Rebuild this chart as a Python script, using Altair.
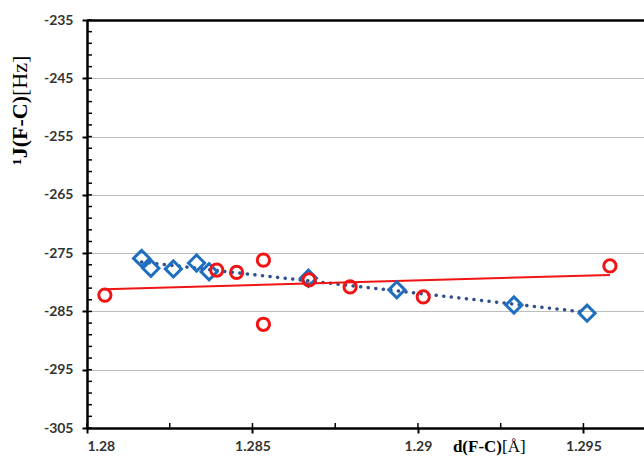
import altair as alt
import pandas as pd

# Coupling constants 1J(F-C) versus F-C bond length, two series
blue_d = [1.28165, 1.28193, 1.28261, 1.28331, 1.28369, 1.28669, 1.28936, 1.29290, 1.29511]
blue_j = [-275.9, -277.6, -277.7, -276.7, -278.2, -279.3, -281.3, -283.9, -285.3]

red_d = [1.28054, 1.28392, 1.28452, 1.28533, 1.28533, 1.28671, 1.28795, 1.29016, 1.29580]
red_j = [-282.2, -277.9, -278.3, -276.2, -287.2, -279.6, -280.8, -282.5, -277.2]

# Axis ticks
x_major = [1.28, 1.285, 1.29, 1.295]
x_minor = [1.2825, 1.2875, 1.2925]
y_major = [-305, -295, -285, -275, -265, -255, -245, -235]
y_minor = [-303, -301, -299, -297, -293, -291, -289, -287, -283, -281, -279, -277,
           -273, -271, -269, -267, -263, -261, -259, -257, -253, -251, -249, -247,
           -243, -241, -239, -237]

X_DOMAIN = [1.28, 1.29683]
Y_DOMAIN = [-305, -235]
W, H = 557, 408

BLUE = "#1F6FC0"
BLUE_LINE = "#2F4F8F"
RED = "#F01414"

blue = pd.DataFrame({"d": blue_d, "j": blue_j})
red = pd.DataFrame({"d": red_d, "j": red_j})

label_font = "Lato"
xs = alt.Scale(domain=X_DOMAIN, nice=False, zero=False)
ys = alt.Scale(domain=Y_DOMAIN, nice=False, zero=False)

x_enc = alt.X(
    "d:Q", scale=xs, title=None,
    axis=alt.Axis(
        values=x_major, format="~g", grid=False, domainColor="#000", domainWidth=2.5,
        tickColor="#000", tickWidth=2, tickSize=5, labelPadding=6,
        labelFont=label_font, labelFontWeight="bold", labelFontSize=14, labelColor="#333",
    ),
)
y_enc = alt.Y(
    "j:Q", scale=ys, title=None,
    axis=alt.Axis(
        values=y_major, labelExpr="toString(datum.value)", domainColor="#000", domainWidth=2.5,
        tickColor="#000", tickWidth=2, tickSize=5, labelPadding=9,
        labelFont=label_font, labelFontWeight="bold", labelFontSize=14, labelColor="#333",
        gridColor={"condition": {"test": "datum.value == -235", "value": "#000"}, "value": "#BDBDBD"},
        gridWidth={"condition": {"test": "datum.value == -235", "value": 2.5}, "value": 1},
    ),
)

# inward minor ticks on both axes
yminor = alt.Chart(pd.DataFrame({"v": y_minor + y_major})).mark_rule(color="#000", strokeWidth=1.5).encode(
    y=alt.Y("v:Q", scale=ys), x=alt.value(0), x2=alt.value(5)
)
xminor = alt.Chart(pd.DataFrame({"v": x_minor + x_major})).mark_rule(color="#000", strokeWidth=1.5).encode(
    x=alt.X("v:Q", scale=xs), y=alt.value(H), y2=alt.value(H - 5)
)

blue_fit = alt.Chart(blue).transform_regression("d", "j").mark_line(
    color=BLUE_LINE, strokeWidth=3.5, strokeDash=[0.1, 7.5], strokeCap="round"
).encode(x=x_enc, y=y_enc)

red_fit = alt.Chart(red).transform_regression("d", "j").mark_line(
    color=RED, strokeWidth=2
).encode(x=x_enc, y=y_enc)

blue_pts = alt.Chart(blue).mark_point(
    shape="diamond", size=260, filled=False, color=BLUE, strokeWidth=3, opacity=1
).encode(x=x_enc, y=y_enc)

red_pts = alt.Chart(red).mark_point(
    shape="circle", size=150, filled=False, color=RED, strokeWidth=3, opacity=1
).encode(x=x_enc, y=y_enc)

serif = "Liberation Serif"

# y title: "¹J(F-C)" bold, "[Hz]" regular, reading upwards
yt_bold = alt.Chart(pd.DataFrame({"t": ["¹J(F-C)"]})).mark_text(
    font=serif, fontSize=22, fontWeight="bold", angle=270, align="right", baseline="middle", color="#000"
).encode(text="t:N", x=alt.value(-67), y=alt.value(76))
yt_reg = alt.Chart(pd.DataFrame({"t": ["[Hz]"]})).mark_text(
    font=serif, fontSize=22, angle=270, align="left", baseline="middle", color="#000"
).encode(text="t:N", x=alt.value(-67), y=alt.value(76))

# x title: "d(F-C)" bold, "[Å]" regular, sitting on the tick-label line
xt_bold = alt.Chart(pd.DataFrame({"t": ["d(F-C)"]})).mark_text(
    font=serif, fontSize=17, fontWeight="bold", align="right", baseline="middle", color="#000"
).encode(text="t:N", x=alt.value(415), y=alt.value(H + 19))
xt_reg = alt.Chart(pd.DataFrame({"t": ["[Å]"]})).mark_text(
    font=serif, fontSize=17, align="left", baseline="middle", color="#000"
).encode(text="t:N", x=alt.value(415), y=alt.value(H + 19))

chart = alt.layer(
    yminor, xminor, blue_fit, red_fit, blue_pts, red_pts, yt_bold, yt_reg, xt_bold, xt_reg
).properties(
    width=W, height=H,
    autosize=alt.AutoSizeParams(type="none"),
    padding={"left": 87, "top": 20, "right": 0, "bottom": 30},
    background="#FFFFFF",
).configure_view(stroke=None)

chart.save("out.html", embed_options={"renderer": "svg", "actions": False})
